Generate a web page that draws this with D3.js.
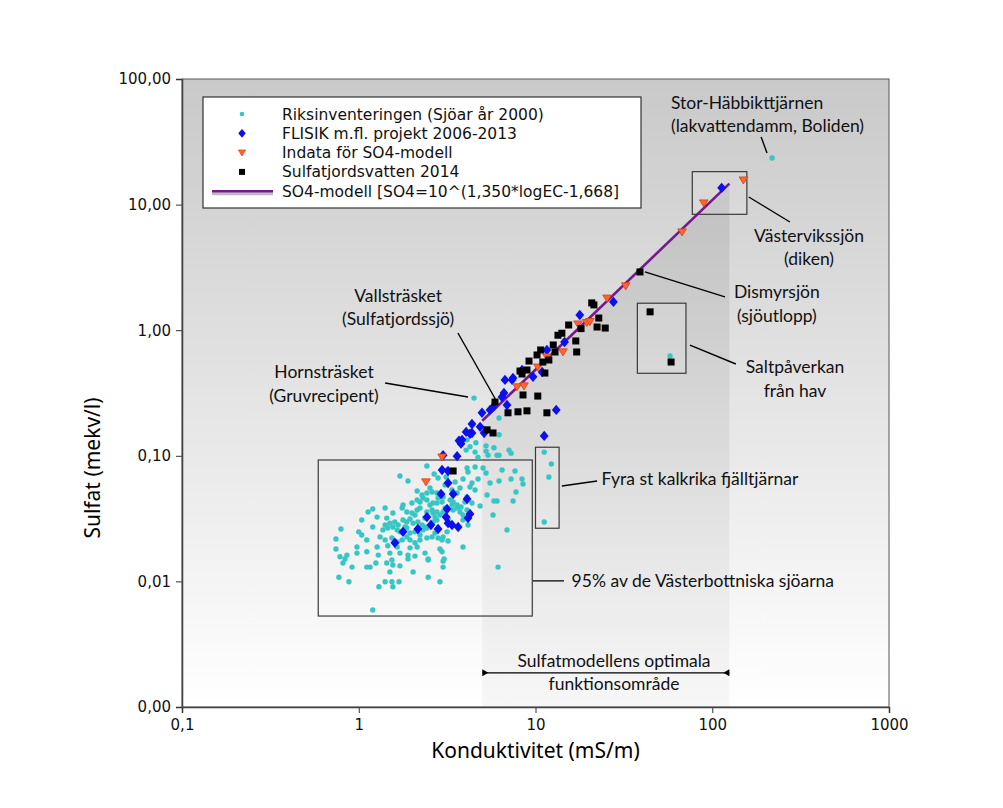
<!DOCTYPE html>
<html>
<head>
<meta charset="utf-8">
<script src="https://cdn.jsdelivr.net/npm/d3@7"></script>
<style>
  body { margin: 0; background: #fff; }
</style>
</head>
<body>
<svg id="chart" width="1003" height="808"></svg>
<script>
// --- data: [Konduktivitet mS/m, Sulfat mekv/l] ---
const riksinventeringen = [
  [4.49,0.288],[6.22,0.200],[6.22,0.147],[4.60,0.127],[4.26,0.118],[5.25,0.120],[5.82,0.116],[5.25,0.109],[6.22,0.101],[7.08,0.111],[7.27,0.105],[4.10,0.134],[4.73,0.0976],[5.39,0.101],[6.06,0.101],[4.05,0.111],[4.55,0.107],[4.55,0.0814],
  [2.43,0.0829],[2.67,0.0716],[4.10,0.0800],[4.15,0.0743],[5.05,0.0800],[5.25,0.0730],[6.47,0.0771],[7.66,0.0757],[3.16,0.0771],
  [1.71,0.0691],[1.90,0.0630],[2.81,0.0666],[3.12,0.0678],[3.89,0.0654],[4.37,0.0608],[4.73,0.0654],[5.53,0.0608],[6.22,0.0630],[7.27,0.0654],[8.39,0.0654],[8.50,0.0597],
  [2.14,0.0524],[2.28,0.0487],[2.43,0.0505],[2.60,0.0515],[2.77,0.0505],[2.88,0.0478],[3.00,0.0470],[3.37,0.0534],[3.60,0.0505],[3.74,0.0554],[4.26,0.0565],[4.55,0.0534],[7.76,0.0515],[5.32,0.0487],[4.10,0.0470],
  [1.78,0.0406],[2.00,0.0421],[2.14,0.0445],[2.22,0.0429],[2.31,0.0461],[2.43,0.0445],[2.63,0.0421],[2.77,0.0421],[2.96,0.0429],[3.29,0.0445],[3.42,0.0429],[3.60,0.0406],[3.79,0.0391],[4.37,0.0421],[4.86,0.0399],[5.82,0.0437],[6.06,0.0437],[7.47,0.0437],[3.99,0.0429],
  [1.13,0.0357],[1.20,0.0377],[1.41,0.0384],[1.56,0.0350],[1.76,0.0384],[1.87,0.0357],[2.00,0.0350],[2.14,0.0370],[2.22,0.0384],[2.43,0.0357],[2.60,0.0370],[2.63,0.0350],[2.77,0.0357],[2.88,0.0338],[3.00,0.0357],[3.42,0.0370],[3.60,0.0384],[3.74,0.0357],[3.89,0.0338],[4.10,0.0370],[5.75,0.0338],
  [1.04,0.0308],[1.27,0.0325],[1.44,0.0319],[1.50,0.0291],[1.60,0.0297],[1.67,0.0281],[1.78,0.0308],[1.87,0.0297],[1.95,0.0314],[2.03,0.0291],[2.16,0.0297],[2.28,0.0281],[2.37,0.0271],[2.63,0.0297],[2.77,0.0308],[3.89,0.0308],[4.15,0.0281],
  [0.793,0.0261],[1.00,0.0248],[1.20,0.0271],[1.37,0.0257],[1.46,0.0266],[1.56,0.0271],[1.65,0.0257],[1.71,0.0248],[1.87,0.0266],[1.95,0.0243],[2.08,0.0248],[2.22,0.0234],[2.31,0.0257],[2.43,0.0266],[2.70,0.0243],[3.00,0.0226],[3.16,0.0248],[6.90,0.0257],
  [0.743,0.0218],[1.04,0.0234],[1.11,0.0214],[1.32,0.0226],[1.41,0.0214],[1.54,0.0222],[1.65,0.0206],[1.76,0.0214],[1.87,0.0226],[1.95,0.0214],[2.08,0.0203],[2.22,0.0214],[2.43,0.0222],[2.60,0.0226],[2.81,0.0222],[2.96,0.0214],[3.20,0.0210],
  [0.743,0.0181],[0.977,0.0188],[1.27,0.0188],[1.46,0.0192],[1.65,0.0188],[1.95,0.0185],[2.14,0.0188],[2.88,0.0181],[3.89,0.0188],[0.857,0.0162],[0.977,0.0168],[1.11,0.0172],[1.29,0.0162],[1.50,0.0168],[1.71,0.0168],[1.90,0.0162],[2.08,0.0159],[2.37,0.0168],[2.96,0.0172],
  [0.783,0.0157],[0.836,0.0151],[0.814,0.0140],[0.916,0.0130],[1.11,0.0130],[1.16,0.0130],[1.25,0.0140],[1.44,0.0140],[1.54,0.0148],[1.56,0.0135],[1.71,0.0133],[1.90,0.0151],[2.47,0.0151],[3.04,0.0151],[3.00,0.0130],[6.14,0.0130],[3.00,0.0145],[2.47,0.0148],
  [0.772,0.0108],[0.880,0.00993],[1.30,0.00906],[1.41,0.00993],[1.54,0.00993],[1.69,0.00993],[1.50,0.0119],[2.03,0.0119],[2.47,0.0108],[2.88,0.00993],[1.56,0.00906],[1.20,0.00592],
  [11.2,0.107],[12.3,0.0860],[11.9,0.0678],[11.2,0.0297],[57.7,0.623],[218,23.5],
  [2.53,0.0406],[3.08,0.0384],[3.20,0.0314],[2.70,0.0325],[2.37,0.0319],[2.08,0.0338],[3.37,0.0406],[2.81,0.0461],[2.53,0.0554],[3.08,0.0586],[3.51,0.0619],[1.83,0.0271],[1.41,0.0281]
];

const flisik = [
  [1.60,0.0203],[1.78,0.0248],[2.16,0.0261],[2.43,0.0325],[2.56,0.0281],[2.81,0.0261],[3.12,0.0325],[3.16,0.0377],[3.20,0.0291],[3.37,0.0281],[3.65,0.0271],[4.15,0.0319],[4.26,0.0344],[4.10,0.0453],[2.92,0.0496],[3.42,0.0496],[3.20,0.0608],[2.96,0.0771],[3.20,0.0757],[3.00,0.101],[3.60,0.0994],[3.69,0.132],[3.79,0.125],[4.05,0.155],[4.37,0.179],[4.37,0.152],[4.86,0.170],[5.12,0.152],[4.98,0.220],[5.53,0.232],[5.75,0.244],[6.46,0.294],[6.63,0.316],[6.72,0.402],[6.90,0.254],[7.46,0.417],[8.39,0.482],[9.68,0.425],[10.9,0.465],[11.6,0.696],[14.6,0.806],[17.8,1.32],[27.6,1.68],[13.1,0.232],[11.2,0.144],[113,13.6],[7.37,0.402],[3.84,0.134],[4.26,0.150]
];

const indata = [
  [2.96,0.0976],[2.40,0.0619],[7.86,0.354],[8.61,0.360],[10.3,0.509],[11.6,0.612],[14.3,0.671],[17.4,1.12],[19.5,1.15],[20.3,1.17],[25.4,1.80],[32.4,2.25],[67.5,6.05],[89.5,10.3],[150,15.7]
];

const sulfatjord = [
  [3.42,0.0757],[5.90,0.268],[5.32,0.161],[5.75,0.152],[6.99,0.220],[7.96,0.224],[8.95,0.228],[11.6,0.220],[8.50,0.305],[10.3,0.299],[9.19,0.568],[8.17,0.473],[8.39,0.448],[8.95,0.482],[10.2,0.635],[10.7,0.696],[11.0,0.558],[11.3,0.456],[12.6,0.763],[12.9,0.671],[13.4,0.912],[14.1,0.946],[15.4,1.10],[16.9,0.821],[17.1,0.671],[18.1,1.03],[20.8,1.65],[21.4,1.59],[22.8,1.25],[22.3,1.06],[24.8,1.04],[11.9,0.579],[39.0,2.91],[44.5,1.40],[58.5,0.558]
];

// SO4-modell, read at the ends of the drawn line (EC 5 .. 125)
const modelLine = [[5, 0.19], [125, 14.7]];

const xTickValues = [0.1, 1, 10, 100, 1000];
const xTickLabels = ["0,1", "1", "10", "100", "1000"];
const yTickValues = [0.001, 0.01, 0.1, 1, 10, 100];
const yTickLabels = ["0,00", "0,01", "0,10", "1,00", "10,00", "100,00"];

const legendLabels = [
  "Riksinventeringen (Sjöar år 2000)",
  "FLISIK m.fl. projekt 2006-2013",
  "Indata för SO4-modell",
  "Sulfatjordsvatten 2014",
  "SO4-modell [SO4=10^(1,350*logEC-1,668]"
];

// annotation boxes [x0, x1, y0, y1] in data units
const boxes = [
  [0.59, 9.59, 0.0926, 0.0053],
  [10.0, 13.6, 0.117, 0.0265],
  [77.1, 157, 18.3, 8.37],
  [37.7, 71.0, 1.64, 0.454]
];
// leader lines [[x0,y0],[x1,y1]]
const leaders = [
  [[189, 34.6], [204, 25.8]],
  [[161, 11.5], [275, 7.27]],
  [[41.6, 2.91], [118, 1.84]],
  [[74.8, 0.762], [136, 0.538]],
  [[3.64, 0.950], [6.06, 0.268]],
  [[1.41, 0.380], [4.15, 0.294]],
  [[14.1, 0.0575], [22.3, 0.0630]],
  [[9.66, 0.0101], [14.5, 0.0101]]
];
// texts [label, x, y, anchor]
const notes = [
  ["Stor-Häbbikttjärnen", 58.4, 58.2, "start"],
  ["(lakvattendamm, Boliden)", 58.4, 37.8, "start"],
  ["Västervikssjön", 353, 5.07, "middle"],
  ["(diken)", 353, 3.30, "middle"],
  ["Dismyrsjön", 232, 1.80, "middle"],
  ["(sjöutlopp)", 232, 1.17, "middle"],
  ["Saltpåverkan", 294, 0.456, "middle"],
  ["från hav", 294, 0.294, "middle"],
  ["Vallsträsket", 1.67, 1.69, "middle"],
  ["(Sulfatjordssjö)", 1.67, 1.094, "middle"],
  ["Hornsträsket", 0.636, 0.413, "middle"],
  ["(Gruvrecipent)", 0.636, 0.268, "middle"],
  ["Fyra st kalkrika fjälltjärnar", 23.6, 0.0586, "start"],
  ["95% av de Västerbottniska sjöarna", 16.0, 0.00907, "start"],
  ["Sulfatmodellens optimala", 27.8, 0.00209, "middle"],
  ["funktionsområde", 27.8, 0.00137, "middle"]
];
const rangeArrow = [5, 125, 0.00187];

// --- layout ---
const margin = { left: 182, top: 79, right: 114, bottom: 101 };
const W = 1003, H = 808;
const pw = W - margin.left - margin.right;
const ph = H - margin.top - margin.bottom;

const svg = d3.select("#chart");

const x = d3.scaleLog().domain([0.1, 1000]).range([margin.left, margin.left + pw]);
const y = d3.scaleLog().domain([0.001, 100]).range([margin.top + ph, margin.top]);

const defs = svg.append("defs");
const bg = defs.append("linearGradient").attr("id", "bg").attr("x1", 0).attr("y1", 0).attr("x2", 0).attr("y2", 1);
bg.append("stop").attr("offset", "0%").attr("stop-color", "#c9c9c9");
bg.append("stop").attr("offset", "100%").attr("stop-color", "#ffffff");

const shade = defs.append("linearGradient").attr("id", "shade")
  .attr("gradientUnits", "userSpaceOnUse")
  .attr("x1", 0).attr("y1", margin.top).attr("x2", 0).attr("y2", margin.top + ph);
shade.append("stop").attr("offset", "0%").attr("stop-color", "#000").attr("stop-opacity", 0.1);
shade.append("stop").attr("offset", "100%").attr("stop-color", "#000").attr("stop-opacity", 0.03);

svg.append("rect")
  .attr("x", margin.left).attr("y", margin.top)
  .attr("width", pw).attr("height", ph)
  .attr("fill", "url(#bg)");

// optimal range of the model: below the model line between its ends
const ySoil = 0.001;
const shadePts = [[modelLine[0][0], ySoil], modelLine[0], modelLine[1], [modelLine[1][0], ySoil]];
svg.append("path")
  .attr("d", d3.line().x(d => x(d[0])).y(d => y(d[1]))(shadePts) + "Z")
  .attr("fill", "url(#shade)");

// axes
const fmtX = d => xTickLabels[xTickValues.indexOf(d)] || "";
const fmtY = d => yTickLabels[yTickValues.findIndex(v => Math.abs(v - d) < d * 1e-6)] || "";

const minorX = [], minorY = [];
xTickValues.slice(0, -1).forEach(v => { for (let k = 2; k <= 9; k++) minorX.push(v * k); });
yTickValues.slice(0, -1).forEach(v => { for (let k = 2; k <= 9; k++) minorY.push(v * k); });

const gx = svg.append("g").attr("transform", `translate(0,${margin.top + ph})`);
gx.call(d3.axisBottom(x).tickValues(minorX).tickSize(4).tickFormat(""));
gx.call(d3.axisBottom(x).tickValues(xTickValues).tickSize(6).tickFormat(fmtX));
const gy = svg.append("g").attr("transform", `translate(${margin.left},0)`);
gy.call(d3.axisLeft(y).tickValues(minorY).tickSize(4).tickFormat(""));
gy.call(d3.axisLeft(y).tickValues(yTickValues).tickSize(6).tickFormat(fmtY));

[gx, gy].forEach(g => {
  g.selectAll(".domain").attr("stroke", "#333").attr("stroke-width", 1.5);
  g.selectAll(".tick line").attr("stroke", "#333");
  g.selectAll("text").attr("font-family", "DejaVu Sans").attr("font-size", 15).attr("fill", "#111");
});
gx.selectAll("text").attr("dy", "0.95em");
gy.selectAll("text").attr("dx", "-2");

// frame top/right
svg.append("rect")
  .attr("x", margin.left).attr("y", margin.top).attr("width", pw).attr("height", ph)
  .attr("fill", "none").attr("stroke", "#555").attr("stroke-width", 1);

svg.append("text")
  .attr("x", x(10)).attr("y", 758)
  .attr("text-anchor", "middle")
  .attr("font-family", "Noto Sans").attr("font-size", 21)
  .text("Konduktivitet (mS/m)");
svg.append("text")
  .attr("transform", `translate(100,${margin.top + ph / 2 + 75}) rotate(-90)`)
  .attr("text-anchor", "middle")
  .attr("font-family", "Noto Sans").attr("font-size", 21)
  .text("Sulfat (mekv/l)");

// annotation boxes
svg.append("g").selectAll("rect").data(boxes).join("rect")
  .attr("x", d => x(d[0])).attr("y", d => y(d[2]))
  .attr("width", d => x(d[1]) - x(d[0])).attr("height", d => y(d[3]) - y(d[2]))
  .attr("fill", "#fff").attr("fill-opacity", 0.12)
  .attr("stroke", "#3a3a3a").attr("stroke-width", 1.2);

// markers
const diamond = "M0,-5.2L4.4,0L0,5.2L-4.4,0Z";
const triDown = "M-4.3,-3.1L4.3,-3.1L0,4Z";

svg.append("g").selectAll("circle").data(riksinventeringen).join("circle")
  .attr("cx", d => x(d[0])).attr("cy", d => y(d[1])).attr("r", 2.7)
  .attr("fill", "#36c6c4");

svg.append("path")
  .attr("d", d3.line().x(d => x(d[0])).y(d => y(d[1]))(modelLine))
  .attr("stroke", "#76198a").attr("stroke-width", 2.6).attr("fill", "none");

svg.append("g").selectAll("path").data(flisik).join("path")
  .attr("transform", d => `translate(${x(d[0])},${y(d[1])})`)
  .attr("d", diamond).attr("fill", "#0c10ee");

svg.append("g").selectAll("path").data(indata).join("path")
  .attr("transform", d => `translate(${x(d[0])},${y(d[1])})`)
  .attr("d", triDown).attr("fill", "#ff6428").attr("stroke", "#d8401c").attr("stroke-width", 0.8);

svg.append("g").selectAll("rect").data(sulfatjord).join("rect")
  .attr("x", d => x(d[0]) - 3.5).attr("y", d => y(d[1]) - 3.5)
  .attr("width", 7).attr("height", 7).attr("fill", "#000");

// leader lines
svg.append("g").selectAll("line").data(leaders).join("line")
  .attr("x1", d => x(d[0][0])).attr("y1", d => y(d[0][1]))
  .attr("x2", d => x(d[1][0])).attr("y2", d => y(d[1][1]))
  .attr("stroke", "#000").attr("stroke-width", 1.4);

svg.append("g").selectAll("text").data(notes).join("text")
  .attr("x", d => x(d[1])).attr("y", d => y(d[2]))
  .attr("text-anchor", d => d[3])
  .attr("font-family", "Lato").attr("font-size", 17.5).attr("fill", "#111")
  .text(d => d[0]);

// range arrow
const ay = y(rangeArrow[2]);
const ax0 = x(rangeArrow[0]), ax1 = x(rangeArrow[1]);
svg.append("line").attr("x1", ax0).attr("x2", ax1).attr("y1", ay).attr("y2", ay)
  .attr("stroke", "#000").attr("stroke-width", 1.3);
svg.append("path").attr("d", `M${ax0},${ay - 3.5}L${ax0 + 6},${ay}L${ax0},${ay + 3.5}Z`).attr("fill", "#000");
svg.append("path").attr("d", `M${ax1},${ay - 3.5}L${ax1 - 6},${ay}L${ax1},${ay + 3.5}Z`).attr("fill", "#000");

// legend
const lg = svg.append("g").attr("transform", "translate(203,97)");
lg.append("rect").attr("width", 438).attr("height", 111)
  .attr("fill", "#fff").attr("stroke", "#333").attr("stroke-width", 1.2);
const rowY = i => 17 + i * 19.3;
lg.append("circle").attr("cx", 39).attr("cy", rowY(0)).attr("r", 2.3).attr("fill", "#36c6c4");
lg.append("path").attr("transform", `translate(39,${rowY(1)}) scale(0.85)`).attr("d", diamond).attr("fill", "#0c10ee");
lg.append("path").attr("transform", `translate(39,${rowY(2)}) scale(0.85)`).attr("d", triDown).attr("fill", "#ff6428").attr("stroke", "#d8401c").attr("stroke-width", 0.8);
lg.append("rect").attr("x", 36).attr("y", rowY(3) - 3).attr("width", 6).attr("height", 6).attr("fill", "#000");
lg.append("line").attr("x1", 9).attr("x2", 70).attr("y1", rowY(4) + 2.5).attr("y2", rowY(4) + 2.5)
  .attr("stroke", "#bdbdbd").attr("stroke-width", 3);
lg.append("line").attr("x1", 9).attr("x2", 70).attr("y1", rowY(4)).attr("y2", rowY(4))
  .attr("stroke", "#76198a").attr("stroke-width", 2.6);
lg.selectAll("text.lab").data(legendLabels).join("text")
  .attr("class", "lab")
  .attr("x", 79).attr("y", (d, i) => rowY(i) + 5.5)
  .attr("font-family", "DejaVu Sans").attr("font-size", 15.5).attr("fill", "#111")
  .text(d => d);
</script>
</body>
</html>
